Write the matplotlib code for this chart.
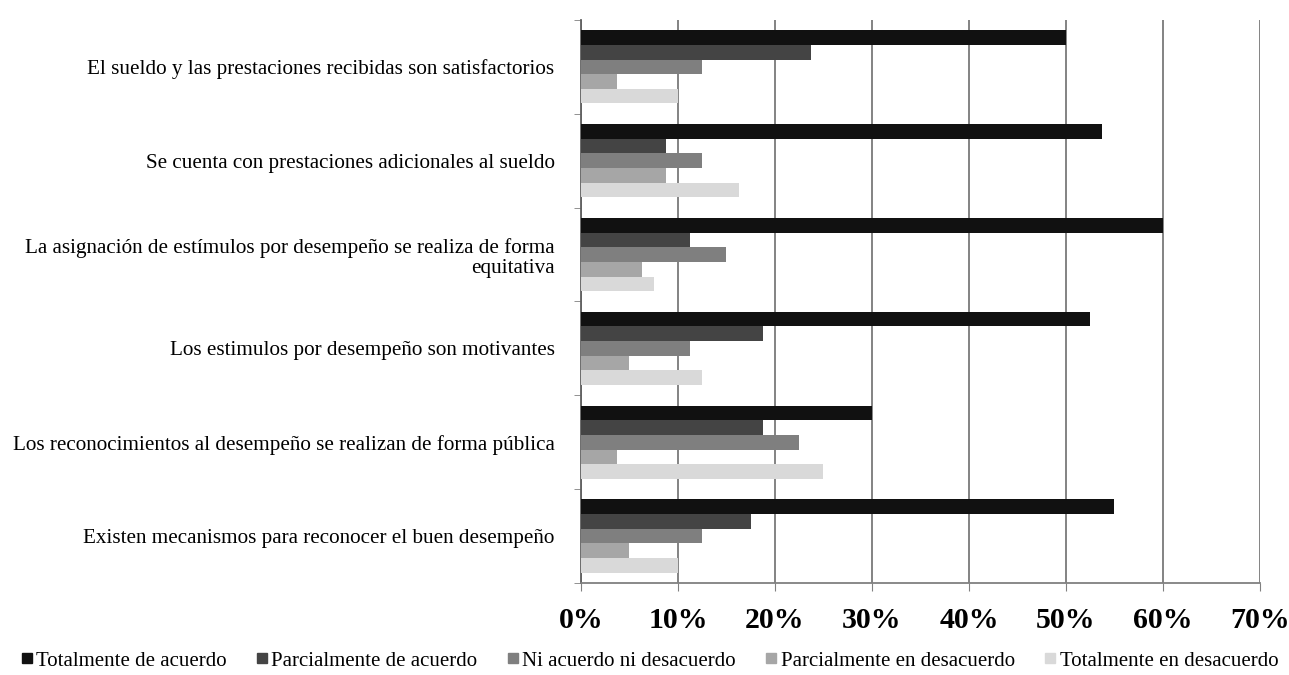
import matplotlib.pyplot as plt
import numpy as np
from matplotlib.lines import Line2D
from matplotlib.ticker import FuncFormatter

plt.rcParams['font.family'] = ['Liberation Serif', 'DejaVu Serif']

# categorias de arriba hacia abajo
categorias = [
    'El sueldo y las prestaciones recibidas son satisfactorios',
    'Se cuenta con prestaciones adicionales al sueldo',
    'La asignación de estímulos por desempeño se realiza de forma\nequitativa',
    'Los estimulos por desempeño son motivantes',
    'Los reconocimientos al desempeño se realizan de forma pública',
    'Existen mecanismos para reconocer el buen desempeño',
]

series = ['Totalmente de acuerdo', 'Parcialmente de acuerdo',
          'Ni acuerdo ni desacuerdo', 'Parcialmente en desacuerdo',
          'Totalmente en desacuerdo']

tot_acuerdo = [50, 53.75, 60, 52.5, 30, 55]
parc_acuerdo = [23.75, 8.75, 11.25, 18.75, 18.75, 17.5]
ni_ni = [12.5, 12.5, 15, 11.25, 22.5, 12.5]
parc_desacuerdo = [3.75, 8.75, 6.25, 5, 3.75, 5]
tot_desacuerdo = [10, 16.25, 7.5, 12.5, 25, 10]

valores = [tot_acuerdo, parc_acuerdo, ni_ni, parc_desacuerdo, tot_desacuerdo]
colores = ['#111111', '#444444', '#7f7f7f', '#a6a6a6', '#d9d9d9']

fig = plt.figure(figsize=(12.89, 6.75), dpi=100)
ax = fig.add_axes([0.4507, 0.1363, 0.5268, 0.8341])

n = len(categorias)
y = np.arange(n)[::-1]
h = 0.156
for i, (vals, c) in enumerate(zip(valores, colores)):
    ax.barh(y + (2 - i) * h, vals, height=h, color=c, zorder=3)

ax.set_xlim(0, 70)
ax.set_ylim(-0.5, n - 0.5)
ax.set_xticks(np.arange(0, 71, 10))
ax.xaxis.set_major_formatter(FuncFormatter(lambda v, p: '%d%%' % v))
ax.grid(axis='x', color='#7a7a7a', linewidth=1.3, zorder=0)

ax.set_yticks(y)
ax.set_yticklabels(categorias, fontsize=15.2, ha='right', linespacing=1.1)
ax.set_yticks(np.arange(-0.5, n, 1), minor=True)
ax.tick_params(axis='y', which='major', length=0, pad=19)
ax.tick_params(axis='y', which='minor', length=5, color='#808080')
ax.tick_params(axis='x', length=6, color='#808080', pad=11)
for lab in ax.get_xticklabels():
    lab.set_fontsize(21.5)
    lab.set_fontweight('bold')

for s in ['top', 'right']:
    ax.spines[s].set_visible(False)
ax.spines['left'].set_color('#606060')
ax.spines['bottom'].set_color('#808080')
ax.spines['left'].set_linewidth(1.3)
ax.spines['bottom'].set_linewidth(1.3)

handles = [Line2D([], [], marker='s', linestyle='none', markersize=7,
                  color=c) for c in colores]
fig.legend(handles, series, loc='center', bbox_to_anchor=(0.503, 0.021),
           ncol=5, frameon=False, fontsize=15, handletextpad=0.05,
           columnspacing=1.3, handlelength=0.8)

fig.savefig('out.png', dpi=100)
